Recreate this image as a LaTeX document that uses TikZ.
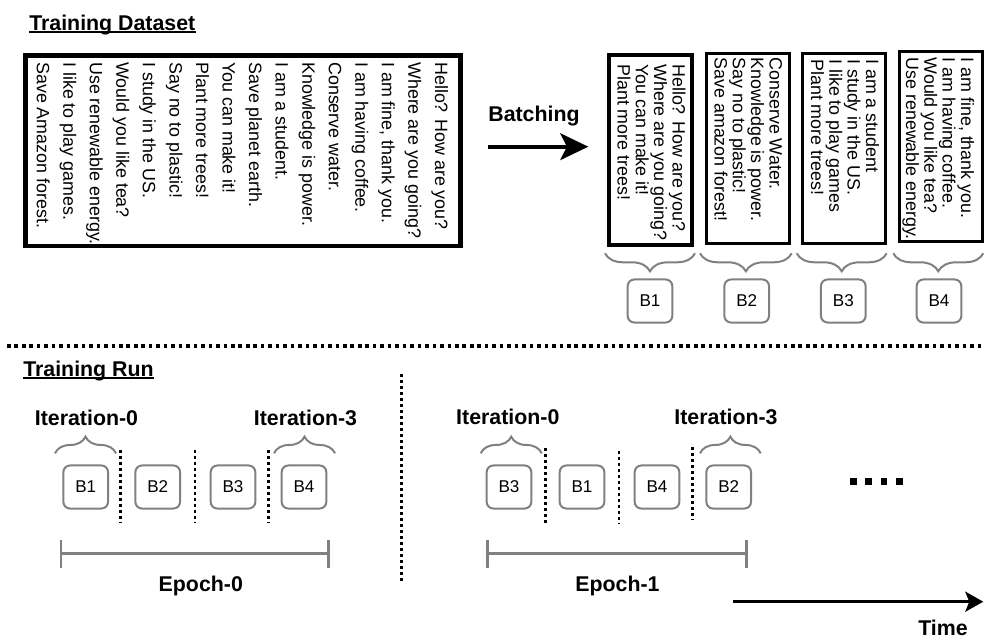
\documentclass[tikz,border=0pt]{standalone}
\usepackage{fontspec}
\setmainfont{Liberation Sans}
\usetikzlibrary{arrows.meta,decorations.pathreplacing}
\definecolor{bgray}{RGB}{128,128,128}
\begin{document}
\begin{tikzpicture}[x=0.75pt,y=-0.75pt,
  txt/.style={inner sep=0pt, font=\fontsize{13.4}{16}\selectfont},
  rtxt/.style={txt, rotate=-90, anchor=base west},
  hd/.style={inner sep=0pt, font=\fontsize{16}{19}\selectfont\bfseries},
  ul/.style={line width=1.5pt},
  bigbox/.style={draw, line width=3.4pt, minimum width=326.6pt, minimum height=142.9pt, inner sep=0pt},
  batchbox/.style={draw, line width=2.5pt, minimum width=62.25pt, minimum height=142.5pt, inner sep=0pt},
  bbox/.style={draw=bgray, line width=1.5pt, rounded corners=5pt, minimum width=33.5pt, minimum height=32.3pt, inner sep=0pt, font=\fontsize{12.8}{15}\selectfont},
  gbrace/.style={draw=bgray, line width=1.5pt, decorate, decoration={brace, amplitude=#1}},
  gbracem/.style={draw=bgray, line width=1.5pt, decorate, decoration={brace, mirror, amplitude=#1}},
  sep/.style={line width=2.2pt, dash pattern=on 2.2pt off 2.3pt},
  hsep/.style={line width=2.6pt, dash pattern=on 2.7pt off 2.9pt},
  ebar/.style={draw=bgray, line width=2pt},
]
\useasboundingbox (0,0) rectangle (985,639);

% ---------- Training Dataset ----------
\node[hd, anchor=base west] (t1) at (29,30) {Training Dataset};
\draw[ul] ([yshift=-1.6pt]t1.base west) -- ([yshift=-1.6pt]t1.base east);

\node[bigbox] (ds) at (243,150.5) {};
\foreach \t [count=\i from 0] in {Hello? How are you?, Where are you going?, {I am fine, thank you.}, I am having coffee., Conserve water., Knowledge is power., I am a student., Save planet earth., You can make it!, Plant more trees!, Say no to plastic!, I study in the US., Would you like tea?, Use renewable energy., I like to play games., Save Amazon forest.}
  \node[rtxt] (d\i) at (435-26.55*\i, 62) {\t};

% ---------- Batching arrow ----------
\node[hd, anchor=base] (bt) at (534,121.5) {Batching};
\coordinate (ba0) at (488,146.7);
\coordinate (ba1) at (588.3,146.7);
\draw[line width=3pt, -{Stealth[length=21pt,width=20pt,inset=5pt]}] (ba0) -- (ba1);

% ---------- Batches ----------
\node[batchbox] (p1) at (650.35,150) {};
\node[batchbox] (p2) at (747.85,148.35) {};
\node[batchbox] (p3) at (843.7,148.35) {};
\node[batchbox] (p4) at (941.15,146.65) {};

\foreach \t [count=\i from 0] in {Hello? How are you?, Where are you going?, You can make it!, Plant more trees!}
  \node[rtxt] (pa\i) at (672.5-18.3*\i, 64) {\t};
\foreach \t [count=\i from 0] in {Conserve Water., Knowledge is power., Say no to plastic!, Save amazon forest!}
  \node[rtxt] (pb\i) at (769.5-18.3*\i, 57.3) {\t};
\foreach \t [count=\i from 0] in {I am a student, I study in the US., I like to play games, Plant more trees!}
  \node[rtxt] (pc\i) at (866-18.3*\i, 59) {\t};
\foreach \t [count=\i from 0] in {{I am fine, thank you.}, I am having coffee., Would you like tea?, Use renewable energy.}
  \node[rtxt] (pd\i) at (961-18.3*\i, 57.3) {\t};

% braces under batches
\draw[gbracem=13.5pt] (605,253.3) -- (695,253.3);
\draw[gbracem=13.5pt] (700,253.3) -- (791.7,253.3);
\draw[gbracem=13.5pt] (796.7,253.3) -- (886.7,253.3);
\draw[gbracem=13.5pt] (893.3,253.3) -- (983.3,253.3);

\node[bbox] (q1) at (650,301) {B1};
\node[bbox] (q2) at (746.7,301) {B2};
\node[bbox] (q3) at (843.3,301) {B3};
\node[bbox] (q4) at (939,301) {B4};

% ---------- separator ----------
\draw[hsep] (7,345.8) -- (985,345.8);

% ---------- Training Run ----------
\node[hd, anchor=base west] (t2) at (23,376) {Training Run};
\draw[ul] ([yshift=-1.6pt]t2.base west) -- ([yshift=-1.6pt]t2.base east);

% Epoch 0
\node[hd, anchor=base] (i00) at (86.5,425) {Iteration-0};
\node[hd, anchor=base] (i03) at (305.5,425) {Iteration-3};
\draw[gbrace=12.5pt] (55,453.3) -- (116,453.3);
\draw[gbrace=12.5pt] (274,453.3) -- (335,453.3);
\node[bbox] (l1) at (85.7,487) {B1};
\node[bbox] (l2) at (157.7,487) {B2};
\node[bbox] (l3) at (233,487) {B3};
\node[bbox] (l4) at (304,487) {B4};
\draw[sep] (120.7,450) -- (120.7,523.3);
\draw[sep] (195,450) -- (195,523.3);
\draw[sep] (268.3,450) -- (268.3,523.3);
\draw[ebar] (61,553.3) -- (328.3,553.3);
\draw[ebar] (61,540) -- (61,568.3);
\draw[ebar] (328.3,540) -- (328.3,568.3);
\node[hd, anchor=base] (e0) at (200.8,591.7) {Epoch-0};

% big vertical separator
\draw[sep] (401.7,374) -- (401.7,583);

% Epoch 1
\node[hd, anchor=base] (i10) at (507.8,424) {Iteration-0};
\node[hd, anchor=base] (i13) at (726,424) {Iteration-3};
\draw[gbrace=12.5pt] (480.7,453.3) -- (541.7,453.3);
\draw[gbrace=12.5pt] (700,453.3) -- (760.7,453.3);
\node[bbox] (r1) at (509,487) {B3};
\node[bbox] (r2) at (582,487) {B1};
\node[bbox] (r3) at (657,487) {B4};
\node[bbox] (r4) at (728.7,487) {B2};
\draw[sep] (545.3,448.3) -- (545.3,523.3);
\draw[sep] (619,450.7) -- (619,523.3);
\draw[sep] (692.3,446.7) -- (692.3,520);
\draw[ebar] (487.7,553.3) -- (746.7,553.3);
\draw[ebar] (487.7,540) -- (487.7,568.3);
\draw[ebar] (746.7,540) -- (746.7,568.3);
\node[hd, anchor=base] (e1) at (617.5,591.7) {Epoch-1};

% continuation dots
\foreach \k in {0,...,3}
  \fill (850+15.3*\k,478.4) rectangle ++(6.6,6.6);

% Time arrow
\coordinate (ta0) at (733.3,601.7);
\coordinate (ta1) at (983.3,601.7);
\draw[line width=2.4pt, -{Stealth[length=13.5pt,width=15pt,inset=3pt]}] (ta0) -- (ta1);
\node[hd, anchor=base] (tm) at (943,635.5) {Time};
\end{tikzpicture}
\end{document}
